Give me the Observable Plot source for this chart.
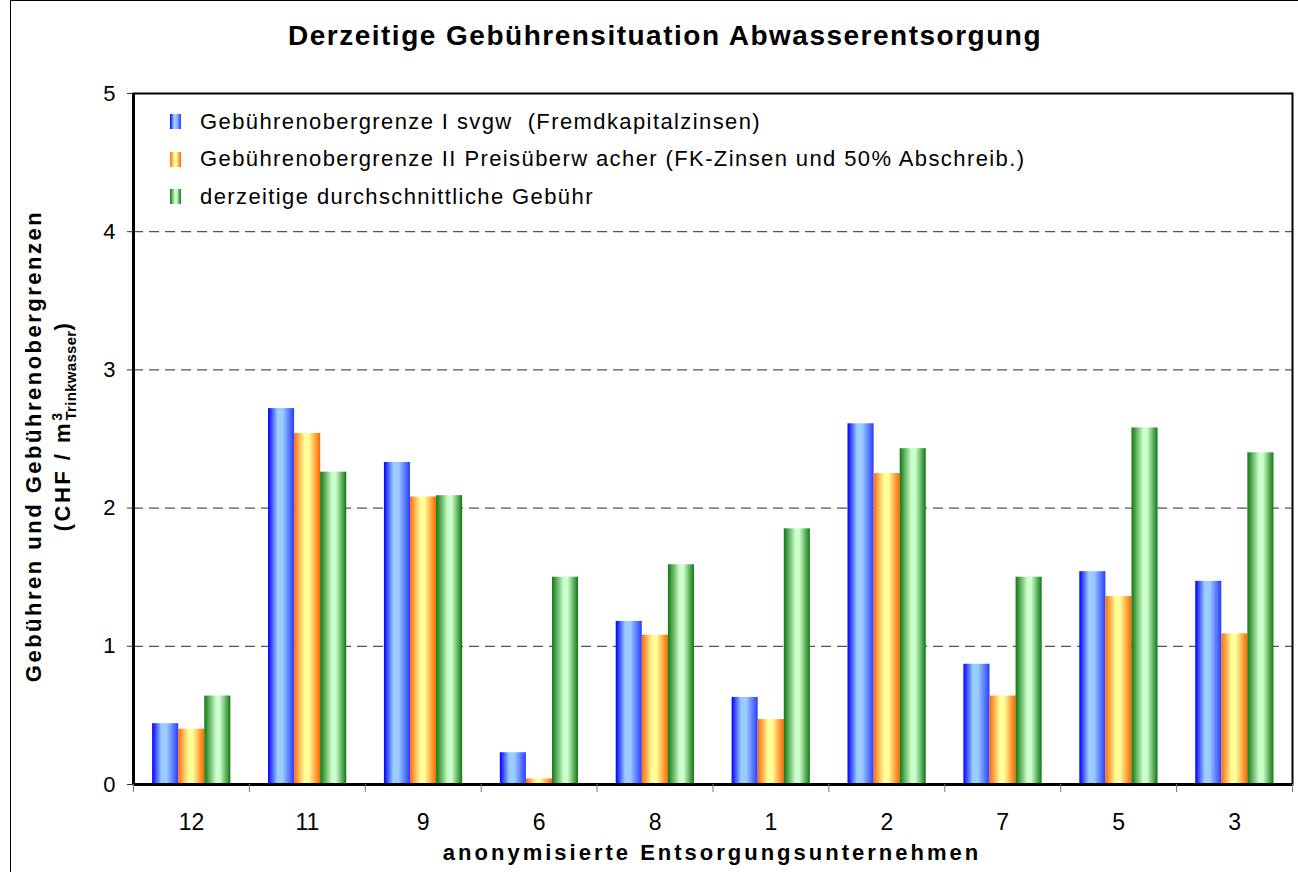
<!DOCTYPE html>
<html><head><meta charset="utf-8">
<script src="https://cdn.jsdelivr.net/npm/d3@7"></script>
<script src="https://cdn.jsdelivr.net/npm/@observablehq/plot@0.6"></script>
<style>
body{margin:0;background:#fff;font-family:"Liberation Sans",Arial,sans-serif;color:#000;}
#wrap{position:relative;width:1298px;height:872px;overflow:hidden;background:#fff;}
#border{position:absolute;left:10px;top:0;width:1400px;height:1000px;border-left:1.5px solid #000;border-top:1.5px solid #000;box-sizing:border-box;}
#chart{position:absolute;left:0;top:0;}
.title{position:absolute;left:665px;top:20px;transform:translateX(-50%);font-size:28px;font-weight:bold;letter-spacing:1.5px;white-space:nowrap;}
.xtitle{position:absolute;left:712px;top:840px;transform:translateX(-50%);font-size:22px;font-weight:bold;letter-spacing:3px;white-space:nowrap;}
.ytitle{position:absolute;transform:translate(-50%,-50%) rotate(-90deg);font-size:22px;font-weight:bold;letter-spacing:2.5px;white-space:nowrap;line-height:1;}
.ytitle sup{font-size:14px;letter-spacing:0;}
.ytitle sub{font-size:15px;margin-left:-0.5em;letter-spacing:0.3px;}
#legend{position:absolute;left:170px;top:103px;font-size:22px;letter-spacing:1.4px;}
#legend .row{display:flex;align-items:center;height:37.5px;white-space:nowrap;}
#legend .sw{width:11px;height:15px;margin-right:19px;}
</style>
</head><body>
<div id="wrap">
  <div id="border"></div>
  <div id="chart"></div>
  <div class="title">Derzeitige Gebührensituation Abwasserentsorgung</div>
  <div class="ytitle" style="left:34px;top:446px">Gebühren und Gebührenobergrenzen</div>
  <div class="ytitle" style="left:64px;top:426px">(CHF / m<sup>3</sup><sub>Trinkwasser</sub>)</div>
  <div class="xtitle">anonymisierte Entsorgungsunternehmen</div>
  <div id="legend"></div>
</div>
<script>
// ---- data ----
const categories = ["12", "11", "9", "6", "8", "1", "2", "7", "5", "3"];
const seriesNames = [
  "Gebührenobergrenze I svgw  (Fremdkapitalzinsen)",
  "Gebührenobergrenze II Preisüberw acher (FK-Zinsen und 50% Abschreib.)",
  "derzeitige durchschnittliche Gebühr"
];
const limitSvgw   = [0.44, 2.72, 2.33, 0.23, 1.18, 0.63, 2.61, 0.87, 1.54, 1.47];
const limitPreis  = [0.40, 2.54, 2.08, 0.04, 1.08, 0.47, 2.25, 0.64, 1.36, 1.09];
const currentFee  = [0.64, 2.26, 2.09, 1.50, 1.59, 1.85, 2.43, 1.50, 2.58, 2.40];
const yTicks = [0, 1, 2, 3, 4, 5];
const gridValues = [1, 2, 3, 4];

// ---- styles ----
const gradients = [
  {id: "gBlue",   stops: [[0, "#0000ff"], [0.36, "#99ccff"], [0.56, "#99ccff"], [1, "#2a3cff"]]},
  {id: "gOrange", stops: [[0, "#ff6a10"], [0.40, "#ffff99"], [0.56, "#ffff99"], [1, "#ff6600"]]},
  {id: "gGreen",  stops: [[0, "#107810"], [0.45, "#ccffcc"], [0.60, "#ccffcc"], [1, "#0f780f"]]}
];
const groupOffset = 0.165, barW = 0.225;

const seriesValues = [limitSvgw, limitPreis, currentFee];
const rows = seriesValues.flatMap((vals, s) => vals.map((v, i) => ({
  s, i, value: v, x1: i + groupOffset + s * barW, x2: i + groupOffset + (s + 1) * barW
})));

function defsMark() {
  const defs = d3.create("svg:defs");
  for (const g of gradients) {
    const lg = defs.append("linearGradient").attr("id", g.id)
      .attr("x1", 0).attr("y1", 0).attr("x2", 1).attr("y2", 0);
    for (const [o, c] of g.stops) lg.append("stop").attr("offset", o).attr("stop-color", c);
  }
  return defs.node();
}

const plot = Plot.plot({
  width: 1298, height: 872,
  marginLeft: 133, marginRight: 6, marginTop: 93, marginBottom: 88,
  style: {fontFamily: "'Liberation Sans', Arial, sans-serif", fontSize: "21px", color: "#000", background: "transparent", overflow: "visible"},
  x: {domain: [0, 10], axis: null},
  y: {domain: [0, 5], axis: null},
  marks: [
    defsMark,
    Plot.ruleY(gridValues, {stroke: "#555", strokeWidth: 1.2, strokeDasharray: "10,6"}),
    ...gradients.map((g, s) => Plot.rectY(rows.filter(d => d.s === s), {
      x1: "x1", x2: "x2", y1: 0, y2: "value", fill: `url(#${g.id})`
    })),
    Plot.frame({stroke: "#000", strokeWidth: 2}),
    Plot.ruleX([0], {stroke: "#000", strokeWidth: 3}),
    Plot.ruleY([0], {stroke: "#000", strokeWidth: 3}),
    Plot.axisY(yTicks, {tickSize: 6, tickPadding: 12, fontSize: 22, label: null, stroke: "#333", tickFormat: d3.format("d")}),
    Plot.axisX(d3.range(11), {tickSize: 8, tickFormat: () => "", label: null, stroke: "#777"}),
    Plot.axisX(categories.map((_, i) => i + 0.5), {
      tickSize: 0, tickPadding: 29, fontSize: 23, label: null,
      tickFormat: d => categories[Math.floor(d)]
    })
  ]
});
document.getElementById("chart").appendChild(plot);

// legend
const legend = d3.select("#legend");
seriesNames.forEach((name, s) => {
  const g = gradients[s];
  const css = "linear-gradient(to right," + g.stops.map(([o, c]) => `${c} ${o * 100}%`).join(",") + ")";
  const row = legend.append("div").attr("class", "row");
  row.append("div").attr("class", "sw").style("background", css);
  row.append("span").text(name).style("white-space", "pre");
});
</script>
</body></html>
